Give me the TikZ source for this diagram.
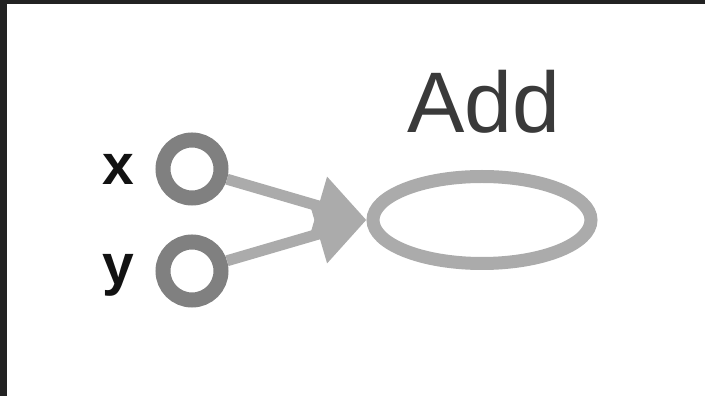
\documentclass[tikz,border=0pt]{standalone}
\usepackage{fontspec}
\setmainfont{Liberation Sans}
\usepackage{xcolor}
\usepackage{tikz}
\usetikzlibrary{arrows.meta}
\usetikzlibrary{shapes}
\usetikzlibrary{positioning}
\definecolor{framegray}{HTML}{222222}
\definecolor{portgray}{HTML}{808080}
\definecolor{opgray}{HTML}{ABABAB}
\definecolor{namegray}{HTML}{3A3A3A}

\begin{document}
\begin{tikzpicture}[x=1pt, y=1pt,
    port/.style={draw=portgray, circle, line width=15pt, minimum size=58pt, inner sep=0pt},
    op/.style={draw=opgray, ellipse, line width=13pt, minimum width=218pt, minimum height=87pt, inner sep=0pt},
    edge/.style={draw=opgray, line width=11pt, -{Triangle[length=50pt, width=58pt]}},
    lbl/.style={inner sep=0pt, text=black!93, font=\fontsize{57}{57}\selectfont\bfseries}]
            \fill[framegray] (0,0) rectangle (705,396);
            \fill[white] (7,0) rectangle (705,392);
            \draw (192,227) node[port]                  (x) {};
            \draw (192,125) node[port]                  (y) {};
            \draw (482,176) node[op]                    (add) {};
            \draw (134,211) node[lbl, anchor=base east] (xlbl) {x};
            \draw (134,111) node[lbl, anchor=base east] (ylbl) {y};
            \draw (484,263) node[anchor=base, inner sep=0pt, text=namegray,
                font=\fontsize{86}{86}\selectfont]      (addlbl) {Add};
            \draw[edge] (x) -- (add.west);
            \draw[edge] (y) -- (add.west);
\end{tikzpicture}
\end{document}
